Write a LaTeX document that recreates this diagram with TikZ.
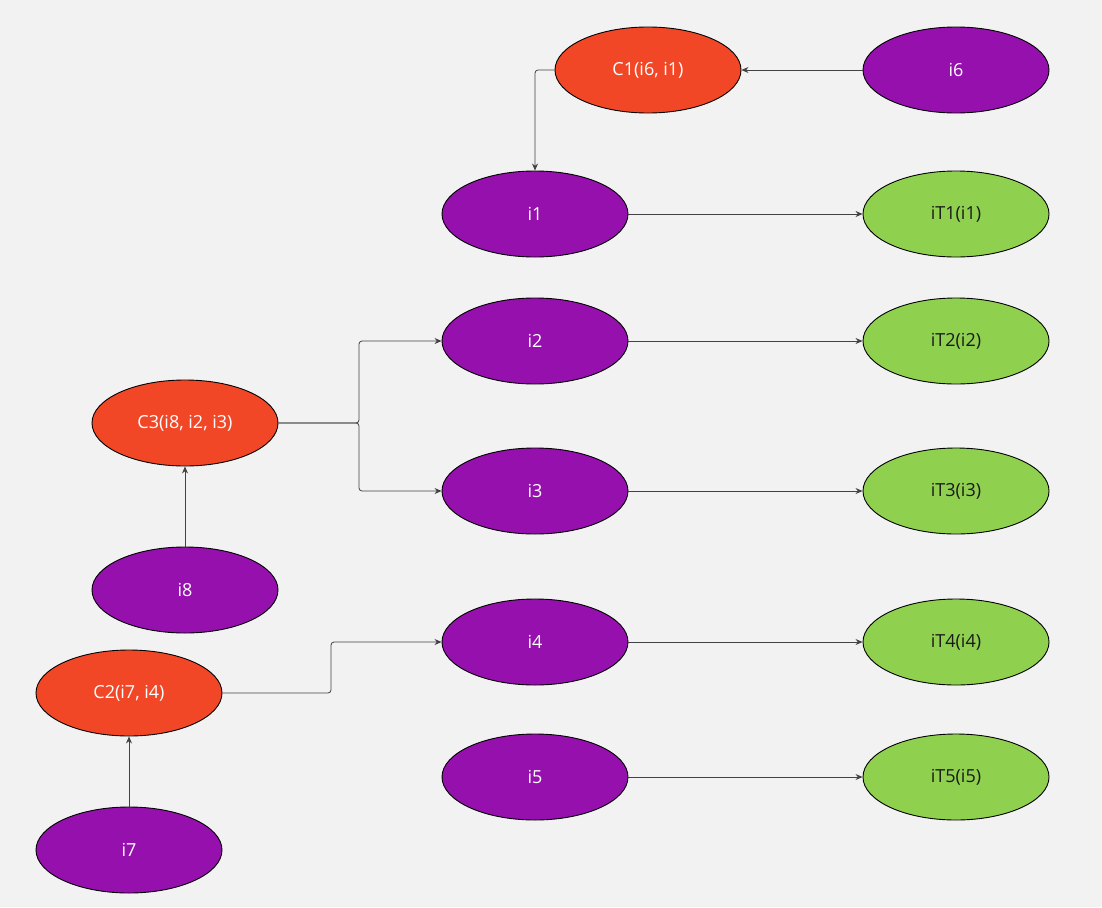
\documentclass[tikz,border=0pt]{standalone}
\usepackage{fontspec}
\setmainfont{Open Sans}
\usetikzlibrary{shapes.geometric,arrows.meta}
\definecolor{bg}{HTML}{F2F2F2}
\definecolor{purp}{HTML}{9510AC}
\definecolor{oran}{HTML}{F24727}
\definecolor{gree}{HTML}{8FD14F}
\definecolor{edgec}{HTML}{424242}
\definecolor{txtd}{HTML}{1A1A1A}
\tikzset{
  ell/.style={ellipse, draw=black, line width=0.9pt, minimum width=186pt, minimum height=86pt, inner sep=0pt, font=\fontsize{18}{21}\selectfont},
  pnode/.style={ell, fill=purp, text=white},
  onode/.style={ell, fill=oran, text=white},
  gnode/.style={ell, fill=gree, text=txtd},
  conn/.style={draw=edgec, line width=0.8pt, rounded corners=3pt, -{Stealth[length=7pt,width=6pt]}},
}
\begin{document}
\begin{tikzpicture}[x=1pt,y=-1pt]
\fill[bg] (0,0) rectangle (1102,907);
\useasboundingbox (0,0) rectangle (1102,907);
\node[onode] (c1) at (648,70) {C1(i6, i1)};
\node[pnode] (i6) at (956,70) {i6};
\node[pnode] (i1) at (535,214) {i1};
\node[gnode] (it1) at (956,214) {iT1(i1)};
\node[pnode] (i2) at (535,341) {i2};
\node[gnode] (it2) at (956,341) {iT2(i2)};
\node[onode] (c3) at (185,423) {C3(i8, i2, i3)};
\node[pnode] (i3) at (535,491) {i3};
\node[gnode] (it3) at (956,491) {iT3(i3)};
\node[pnode] (i8) at (185,590) {i8};
\node[pnode] (i4) at (535,642) {i4};
\node[gnode] (it4) at (956,642) {iT4(i4)};
\node[onode] (c2) at (129,693) {C2(i7, i4)};
\node[pnode] (i5) at (535,777) {i5};
\node[gnode] (it5) at (956,777) {iT5(i5)};
\node[pnode] (i7) at (129,850) {i7};
\coordinate (k0) at (535,70);
\coordinate (k1) at (359,423);
\coordinate (k2) at (331,693);
\draw[conn] (i6.west) -- (c1.east);
\draw[conn] (c1.west) -- (k0) -- (i1.north);
\draw[conn] (i1) -- (it1);
\draw[conn] (i2) -- (it2);
\draw[conn] (i3) -- (it3);
\draw[conn] (i4) -- (it4);
\draw[conn] (i5) -- (it5);
\draw[conn] (c3.east) -- (k1) |- (i2.west);
\draw[conn] (c3.east) -- (k1) |- (i3.west);
\draw[conn] (i8) -- (c3);
\draw[conn] (c2.east) -- (k2) |- (i4.west);
\draw[conn] (i7) -- (c2);
\end{tikzpicture}
\end{document}
